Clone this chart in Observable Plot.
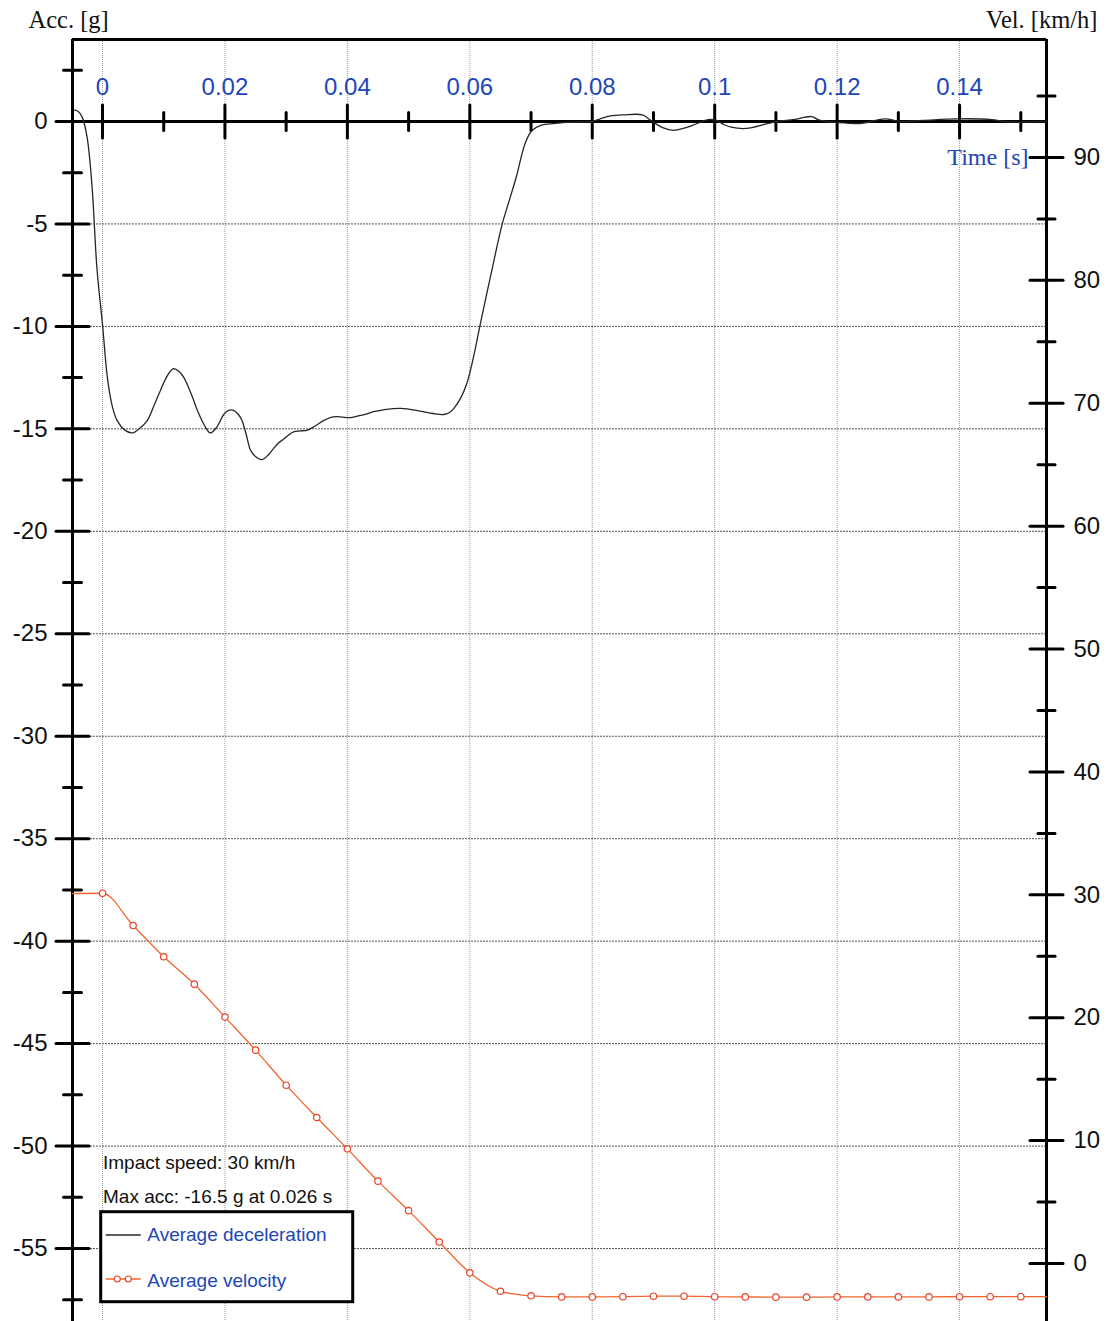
<!DOCTYPE html>
<html>
<head>
<meta charset="utf-8">
<script src="https://cdn.jsdelivr.net/npm/d3@7"></script>
<script src="https://cdn.jsdelivr.net/npm/@observablehq/plot@0.6"></script>
<style>
  html, body { margin: 0; padding: 0; background: #fff; }
  #wrap { position: relative; width: 1108px; height: 1321px; overflow: hidden; background: #fff; }
  #wrap > svg, #wrap > div { position: absolute; left: 0; top: 0; }
</style>
</head>
<body>
<div id="wrap"></div>
<script>
// ---------------- data ----------------
const accTime = [-0.0047, -0.0040, -0.0033, -0.0025, -0.0017, -0.0009, 0.0000, 0.0008, 0.0016, 0.0024,
  0.0036, 0.0048, 0.0060, 0.0073, 0.0085, 0.0095, 0.0106, 0.0116, 0.0125, 0.0133,
  0.0145, 0.0155, 0.0166, 0.0176, 0.0187, 0.0198, 0.0206, 0.0214, 0.0222, 0.0228,
  0.0235, 0.0242, 0.0252, 0.0261, 0.0270, 0.0277, 0.0287, 0.0296, 0.0304, 0.0312,
  0.0323, 0.0334, 0.0348, 0.0361, 0.0372, 0.0383, 0.0405, 0.0427, 0.0445, 0.0459,
  0.0487, 0.0519, 0.0540, 0.0557, 0.0567, 0.0574, 0.0585, 0.0595, 0.0606, 0.0617,
  0.0635, 0.0653, 0.0665, 0.0676, 0.0690, 0.0701, 0.0715, 0.0740, 0.0770, 0.0800,
  0.0813, 0.0830, 0.0851, 0.0882, 0.0898, 0.0915, 0.0933, 0.0950, 0.0964, 0.0989,
  0.1002, 0.1015, 0.1027, 0.1052, 0.1083, 0.1102, 0.1130, 0.1158, 0.1171, 0.1200,
  0.1240, 0.1278, 0.1303, 0.1340, 0.1397, 0.1453, 0.1472, 0.1500, 0.1541];
const accValue = [0.57, 0.50, 0.20, -0.8, -3.2, -7.2, -9.9, -12.5, -13.9, -14.6,
  -15.05, -15.2, -15.0, -14.6, -13.8, -13.1, -12.4, -12.06, -12.2, -12.5,
  -13.3, -14.1, -14.8, -15.2, -14.9, -14.3, -14.1, -14.1, -14.3, -14.6,
  -15.3, -16.05, -16.4, -16.5, -16.3, -16.05, -15.7, -15.5, -15.3, -15.15,
  -15.1, -15.07, -14.85, -14.6, -14.45, -14.4, -14.45, -14.3, -14.15, -14.07,
  -14.0, -14.13, -14.25, -14.3, -14.2, -14.0, -13.5, -12.8, -11.5, -9.9,
  -7.4, -5.0, -3.8, -2.7, -1.1, -0.45, -0.2, -0.09, -0.03, 0.0,
  0.13, 0.27, 0.32, 0.32, 0.0, -0.3, -0.43, -0.33, -0.19, 0.09,
  0.06, -0.15, -0.28, -0.34, -0.13, 0.0, 0.1, 0.24, 0.06, -0.05,
  -0.09, 0.13, 0.0, 0.05, 0.13, 0.09, 0.0, -0.03, 0.0];

const velTime = [-0.0049, 0.000, 0.005, 0.010, 0.015, 0.020, 0.025, 0.030, 0.035, 0.040,
  0.045, 0.050, 0.055, 0.060, 0.065, 0.070, 0.075, 0.080, 0.085, 0.090,
  0.095, 0.100, 0.105, 0.110, 0.115, 0.120, 0.125, 0.130, 0.135, 0.140,
  0.145, 0.150, 0.1542];
const velValue = [30.1, 30.13, 27.5, 24.96, 22.73, 20.05, 17.36, 14.51, 11.88, 9.33,
  6.7, 4.3, 1.75, -0.76, -2.26, -2.63, -2.72, -2.72, -2.7, -2.66,
  -2.66, -2.7, -2.72, -2.74, -2.74, -2.72, -2.72, -2.72, -2.72, -2.7,
  -2.7, -2.7, -2.7];

const timeTicks = [0, 0.02, 0.04, 0.06, 0.08, 0.1, 0.12, 0.14];
const timeTickLabels = ["0", "0.02", "0.04", "0.06", "0.08", "0.1", "0.12", "0.14"];
const timeMinorTicks = [0.01, 0.03, 0.05, 0.07, 0.09, 0.11, 0.13, 0.15];
const accTicks = [0, -5, -10, -15, -20, -25, -30, -35, -40, -45, -50, -55];
const accMinorTicks = [2.5, -2.5, -7.5, -12.5, -17.5, -22.5, -27.5, -32.5, -37.5, -42.5, -47.5, -52.5, -57.5];
const velTicks = [0, 10, 20, 30, 40, 50, 60, 70, 80, 90];
const velMinorTicks = [5, 15, 25, 35, 45, 55, 65, 75, 85, 95];

const timeDomain = [-0.0049, 0.1542];
const accDomain = [-58.56, 4.0];
const velDomain = [-4.72, 99.6];

const impactSpeed = 30;
const accTitle = "Acc. [g]";
const velTitle = "Vel. [km/h]";
const timeTitle = "Time [s]";
const legendLabels = ["Average deceleration", "Average velocity"];

// ---------------- tables ----------------
const accData = accTime.map((t, i) => ({t, a: accValue[i]}));
const velData = velTime.map((t, i) => ({t, v: velValue[i]}));
const velMarkers = velData.filter(d => d.t >= 0 && d.t <= 0.15);
const minIdx = d3.minIndex(accValue);
const maxAccText = `Max acc: ${accValue[minIdx].toFixed(1)} g at ${accTime[minIdx].toFixed(3)} s`;

// ---------------- styles ----------------
const BLUE = "#2146b6";
const ORANGE = "#f0652e";
const SANS = "Liberation Sans, Arial, sans-serif";
const SERIF = "Liberation Serif, Times New Roman, serif";
const tickShape = {draw(context, l) { context.moveTo(0, 0); context.lineTo(0, -l); }};

const common = {
  width: 1108, height: 1321,
  marginLeft: 72, marginRight: 62, marginTop: 39, marginBottom: 0,
  style: {background: "transparent", fontFamily: SANS, overflow: "visible"}
};

const accPlot = Plot.plot({
  ...common,
  x: {domain: timeDomain, axis: null},
  y: {domain: accDomain, axis: null},
  marks: [
    // grid
    Plot.ruleX(timeTicks, {stroke: "#9a9a9a", strokeWidth: 1, strokeDasharray: "1,1"}),
    Plot.ruleY(accTicks.filter(d => d !== 0), {stroke: "#555", strokeWidth: 1, strokeDasharray: "2,1"}),
    // frame lines
    Plot.ruleY([accDomain[1]], {stroke: "#000", strokeWidth: 3}),
    Plot.ruleX(timeDomain, {stroke: "#000", strokeWidth: 3}),
    // time axis at acc = 0
    Plot.ruleY([0], {stroke: "#000", strokeWidth: 3}),
    Plot.vector(timeTicks, {x: d => d, y: 0, length: 33, anchor: "middle", shape: tickShape, stroke: "#000", strokeWidth: 3}),
    Plot.vector(timeMinorTicks, {x: d => d, y: 0, length: 18, anchor: "middle", shape: tickShape, stroke: "#000", strokeWidth: 3}),
    Plot.text(timeTicks, {x: d => d, y: 0, dy: -34, text: (d, i) => timeTickLabels[i], fill: BLUE, fontSize: 24, textAnchor: "middle", lineAnchor: "middle"}),
    Plot.text([timeTitle], {frameAnchor: "top-right", dx: -18, dy: 118, text: d => d, textAnchor: "end", lineAnchor: "middle", fill: BLUE, fontSize: 24, fontFamily: SERIF}),
    // left axis ticks + labels
    Plot.vector(accTicks, {y: d => d, frameAnchor: "left", rotate: 90, length: 33, anchor: "middle", shape: tickShape, stroke: "#000", strokeWidth: 3}),
    Plot.vector(accMinorTicks, {y: d => d, frameAnchor: "left", rotate: 90, length: 18, anchor: "middle", shape: tickShape, stroke: "#000", strokeWidth: 3}),
    Plot.text(accTicks, {y: d => d, frameAnchor: "left", dx: -25, text: d => String(d), textAnchor: "end", lineAnchor: "middle", fill: "#111", fontSize: 24}),
    // titles
    Plot.text([accTitle], {frameAnchor: "top-left", dx: -44, dy: -12, text: d => d, textAnchor: "start", lineAnchor: "bottom", fill: "#111", fontSize: 24.5, fontFamily: SERIF}),
    Plot.text([velTitle], {frameAnchor: "top-right", dx: 51, dy: -12, text: d => d, textAnchor: "end", lineAnchor: "bottom", fill: "#111", fontSize: 24.5, fontFamily: SERIF}),
    // annotations
    Plot.text([`Impact speed: ${impactSpeed} km/h`], {frameAnchor: "bottom-left", dx: 30.5, dy: -153, text: d => d, textAnchor: "start", lineAnchor: "bottom", fill: "#111", fontSize: 19}),
    Plot.text([maxAccText], {frameAnchor: "bottom-left", dx: 30.5, dy: -118.5, text: d => d, textAnchor: "start", lineAnchor: "bottom", fill: "#111", fontSize: 19}),
    // deceleration curve
    Plot.line(accData, {x: "t", y: "a", curve: "catmull-rom", stroke: "#262626", strokeWidth: 1.3})
  ]
});

const velPlot = Plot.plot({
  ...common,
  x: {domain: timeDomain, axis: null},
  y: {domain: velDomain, axis: null},
  marks: [
    Plot.vector(velTicks, {y: d => d, frameAnchor: "right", rotate: 90, length: 33, anchor: "middle", shape: tickShape, stroke: "#000", strokeWidth: 3}),
    Plot.vector(velMinorTicks, {y: d => d, frameAnchor: "right", rotate: 90, length: 17, anchor: "middle", shape: tickShape, stroke: "#000", strokeWidth: 3}),
    Plot.text(velTicks, {y: d => d, frameAnchor: "right", dx: 27, text: d => String(d), textAnchor: "start", lineAnchor: "middle", fill: "#111", fontSize: 24}),
    Plot.line(velData, {x: "t", y: "v", curve: "monotone-x", stroke: ORANGE, strokeWidth: 1.3}),
    Plot.dot(velMarkers, {x: "t", y: "v", r: 3.2, stroke: "#e8442a", strokeWidth: 1.2, fill: "#fff"})
  ]
});

const wrap = document.getElementById("wrap");
wrap.appendChild(accPlot);
wrap.appendChild(velPlot);

// ---------------- legend ----------------
const legend = d3.select(wrap).append("svg")
  .attr("width", 260).attr("height", 96)
  .style("position", "absolute").style("left", "99px").style("top", "1210px");
legend.append("rect").attr("x", 1.7).attr("y", 1.7).attr("width", 252).attr("height", 90)
  .attr("fill", "#fff").attr("stroke", "#000").attr("stroke-width", 3);
legend.append("line").attr("x1", 6.7).attr("x2", 41.7).attr("y1", 25).attr("y2", 25)
  .attr("stroke", "#262626").attr("stroke-width", 1.3);
legend.append("text").attr("x", 48.3).attr("y", 31).text(legendLabels[0])
  .attr("fill", BLUE).attr("font-size", 19).attr("font-family", SANS);
legend.append("line").attr("x1", 6.7).attr("x2", 41.7).attr("y1", 69).attr("y2", 69)
  .attr("stroke", ORANGE).attr("stroke-width", 1.3);
[18.3, 29.3].forEach(cx => legend.append("circle").attr("cx", cx).attr("cy", 69).attr("r", 3)
  .attr("fill", "#fff").attr("stroke", "#e8442a").attr("stroke-width", 1.2));
legend.append("text").attr("x", 48.3).attr("y", 76.7).text(legendLabels[1])
  .attr("fill", BLUE).attr("font-size", 19).attr("font-family", SANS);
</script>
</body>
</html>
